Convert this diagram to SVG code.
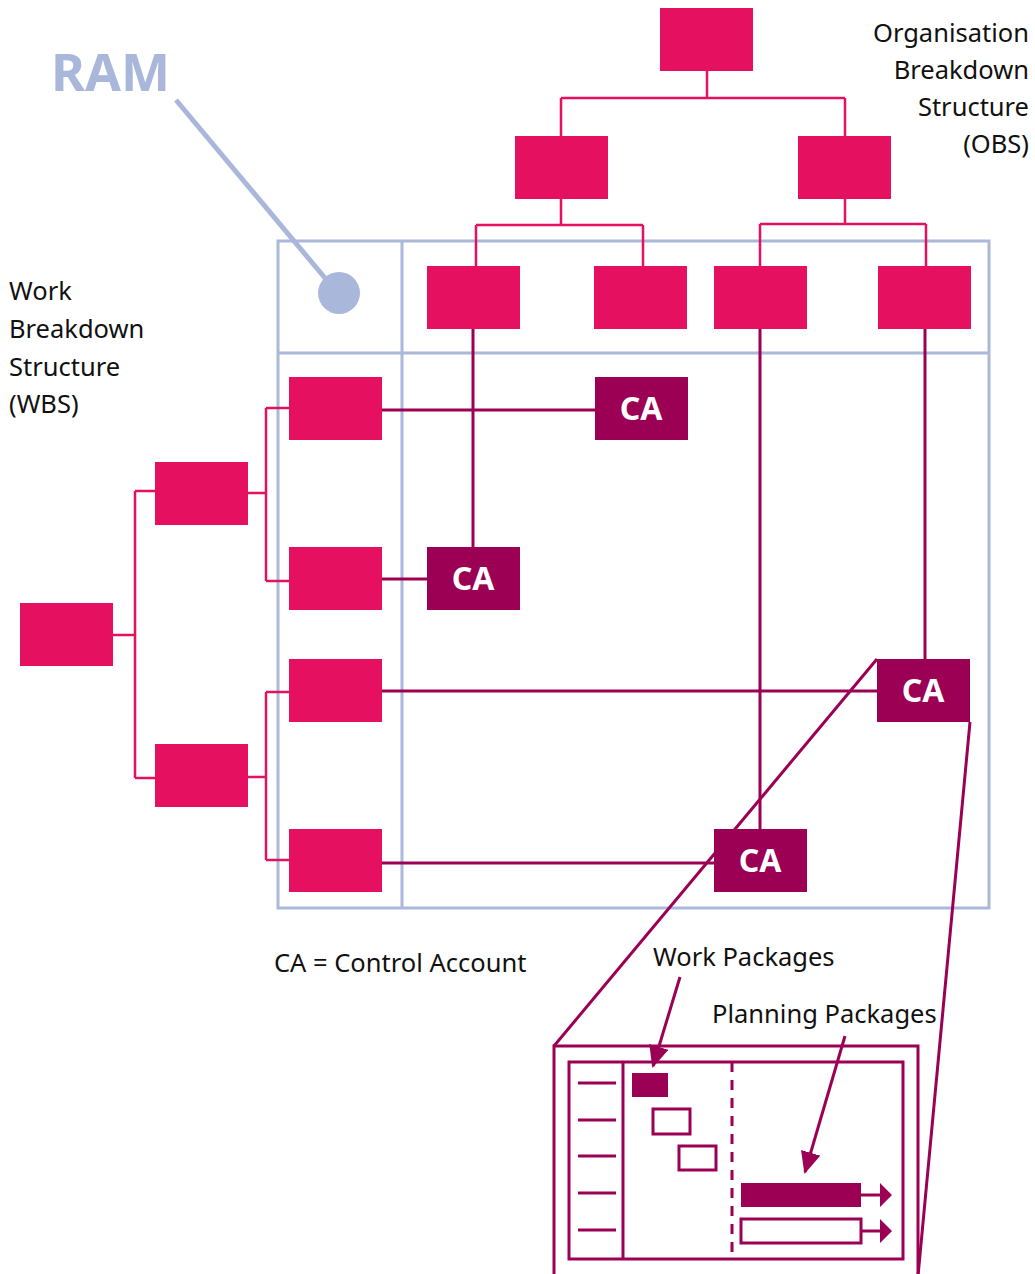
<svg xmlns="http://www.w3.org/2000/svg" width="1035" height="1274" viewBox="0 0 1035 1274">
<style>
.n{fill:#e5105f}
.ca{fill:#9c0055}
.cat{fill:#fff;font-family:"Noto Sans","Open Sans",sans-serif;font-weight:bold;font-size:32px;text-anchor:middle}
.lbl{fill:#111;font-family:"Noto Sans","Open Sans",sans-serif;font-size:25.5px}
.tree{fill:none;stroke:#e5105f;stroke-width:2.5}
.row{fill:none;stroke:#9c0055;stroke-width:3}
.grid{fill:none;stroke:#aab8dc;stroke-width:3}
.z{fill:none;stroke:#9c0055;stroke-width:3}
</style>
<defs>
<marker id="ah" markerWidth="22" markerHeight="20" refX="20" refY="10" orient="auto" markerUnits="userSpaceOnUse" viewBox="0 0 22 20"><path d="M0,0 L22,10 L0,20 z" fill="#9c0055"/></marker>
</defs>
<g id="grid">
<rect class="grid" x="278" y="241" width="711" height="667"/>
<line class="grid" x1="402" y1="241" x2="402" y2="908"/>
<line class="grid" x1="278" y1="353" x2="989" y2="353"/>
</g>
<g id="ram">
<text x="51" y="91" style="fill:#a9b7db;font-family:'Noto Sans','Open Sans',sans-serif;font-weight:bold;font-size:52px">RAM</text>
<line x1="176" y1="100" x2="330" y2="284" stroke="#a9b7db" stroke-width="5"/>
<circle cx="339" cy="293" r="21" fill="#a9b7db"/>
</g>
<g id="connectors">
<path class="tree" d="M707,71 V98 M561,98 H845 M561,98 V136 M845,98 V136"/>
<path class="tree" d="M561,199 V225 M476,225 H643 M476,225 V266 M643,225 V266"/>
<path class="tree" d="M845,199 V224 M760,224 H926 M760,224 V266 M926,224 V266"/>
<path class="tree" d="M113,635 H135 M135,491 V778 M135,491 H155 M135,778 H155"/>
<path class="tree" d="M248,493 H266 M266,408 V581 M266,408 H289 M266,581 H289"/>
<path class="tree" d="M248,777 H266 M266,692 V860 M266,692 H289 M266,860 H289"/>
<path class="row" d="M382,410 H595 M382,579 H427 M382,691 H877 M382,863 H714"/>
<path class="row" d="M473,329 V547 M760,329 V829 M925,329 V659"/>
<path class="z" d="M877,659 L554,1046 M970,722 L918,1276"/>
<path class="z" d="M680,977 L653,1066" marker-end="url(#ah)"/>
<path class="z" d="M845,1036 L805,1172" marker-end="url(#ah)"/>
</g>
<g id="obs">
<rect id="o0" class="n" x="660" y="8" width="93" height="63"/>
<rect id="o1" class="n" x="515" y="136" width="93" height="63"/>
<rect id="o2" class="n" x="798" y="136" width="93" height="63"/>
<rect id="o3" class="n" x="427" y="266" width="93" height="63"/>
<rect id="o4" class="n" x="594" y="266" width="93" height="63"/>
<rect id="o5" class="n" x="714" y="266" width="93" height="63"/>
<rect id="o6" class="n" x="878" y="266" width="93" height="63"/>
</g>
<g id="wbs">
<rect id="w0" class="n" x="20" y="603" width="93" height="63"/>
<rect id="w1" class="n" x="155" y="462" width="93" height="63"/>
<rect id="w2" class="n" x="155" y="744" width="93" height="63"/>
<rect id="w3" class="n" x="289" y="377" width="93" height="63"/>
<rect id="w4" class="n" x="289" y="547" width="93" height="63"/>
<rect id="w5" class="n" x="289" y="659" width="93" height="63"/>
<rect id="w6" class="n" x="289" y="829" width="93" height="63"/>
</g>
<g id="ca1"><rect class="ca" x="595" y="377" width="93" height="63"/><text class="cat" x="641" y="420">CA</text></g>
<g id="ca2"><rect class="ca" x="427" y="547" width="93" height="63"/><text class="cat" x="473" y="590">CA</text></g>
<g id="ca3"><rect class="ca" x="877" y="659" width="93" height="63"/><text class="cat" x="923" y="702">CA</text></g>
<g id="ca4"><rect class="ca" x="714" y="829" width="93" height="63"/><text class="cat" x="760" y="872">CA</text></g>
<g id="labels">
<text class="lbl" x="9" y="300">Work</text>
<text class="lbl" x="9" y="338">Breakdown</text>
<text class="lbl" x="9" y="376">Structure</text>
<text class="lbl" x="9" y="413">(WBS)</text>
<text class="lbl" x="1029" y="42" text-anchor="end">Organisation</text>
<text class="lbl" x="1029" y="79" text-anchor="end">Breakdown</text>
<text class="lbl" x="1029" y="116" text-anchor="end">Structure</text>
<text class="lbl" x="1029" y="153" text-anchor="end">(OBS)</text>
<text class="lbl" x="274" y="972">CA = Control Account</text>
<text class="lbl" x="653" y="966">Work Packages</text>
<text class="lbl" x="712" y="1023">Planning Packages</text>
</g>
<g id="detail">
<rect class="z" x="554" y="1046" width="364" height="240"/>
<rect class="z" x="569" y="1062" width="334" height="197"/>
<line class="z" x1="623" y1="1062" x2="623" y2="1259"/>
<line class="z" x1="732" y1="1062" x2="732" y2="1259" stroke-dasharray="10,8"/>
<path class="z" d="M578,1083 H616 M578,1120 H616 M578,1156 H616 M578,1193 H616 M578,1230 H616"/>
<rect x="632" y="1073" width="36" height="24" fill="#9c0055"/>
<rect class="z" x="653" y="1109" width="37" height="25"/>
<rect class="z" x="679" y="1146" width="37" height="24"/>
<rect x="741" y="1183" width="120" height="24" fill="#9c0055"/>
<rect class="z" x="741" y="1219" width="120" height="24"/>
<path class="z" d="M861,1195 H882 M861,1231 H882"/>
<path d="M880,1183 L892,1195 L880,1207 z M880,1219 L892,1231 L880,1243 z" fill="#9c0055"/>
</g>
</svg>
